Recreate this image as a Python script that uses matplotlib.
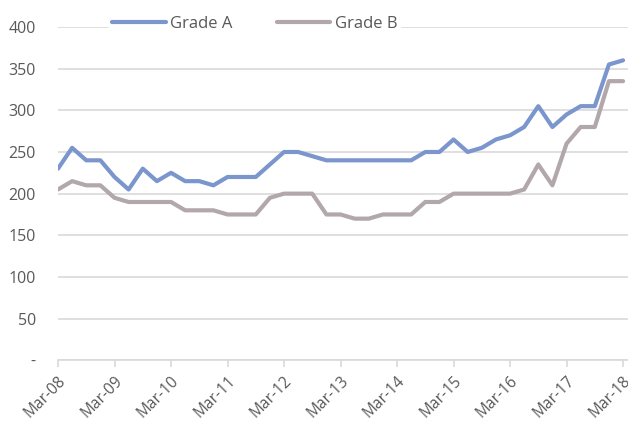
import matplotlib
matplotlib.use("Agg")
import matplotlib.pyplot as plt

# quarterly series, Mar-08 .. Mar-18
grade_a = [230, 255, 240, 240, 220, 205, 230, 215, 225, 215, 215, 210,
           220, 220, 220, 235, 250, 250, 245, 240, 240, 240, 240, 240,
           240, 240, 250, 250, 265, 250, 255, 265, 270, 280, 305, 280,
           295, 305, 305, 355, 360]
grade_b = [205, 215, 210, 210, 195, 190, 190, 190, 190, 180, 180, 180,
           175, 175, 175, 195, 200, 200, 200, 175, 175, 170, 170, 175,
           175, 175, 190, 190, 200, 200, 200, 200, 200, 205, 235, 210,
           260, 280, 280, 335, 335]
tick_labels = ["Mar-08", "Mar-09", "Mar-10", "Mar-11", "Mar-12", "Mar-13",
               "Mar-14", "Mar-15", "Mar-16", "Mar-17", "Mar-18"]
y_ticks = [0, 50, 100, 150, 200, 250, 300, 350, 400]
y_labels = ["-"] + [str(v) for v in y_ticks[1:]]

plt.rcParams['font.family'] = ['Open Sans', 'DejaVu Sans']
txt = "#595959"
grid = "#D9D9D9"

fig = plt.figure(figsize=(6.28, 4.26), dpi=100)
ax = fig.add_axes([58 / 628, 1 - 360.3 / 426, 570 / 628, (360.3 - 27) / 426])

x = list(range(len(grade_a)))
ax.plot(x, grade_a, color="#7B96CC", lw=3, label="Grade A", solid_capstyle="round", zorder=3)
ax.plot(x, grade_b, color="#B2A7AB", lw=3, label="Grade B", solid_capstyle="round", zorder=3)

ax.set_xlim(0, 40.35)
ax.set_ylim(0, 400)
ax.set_yticks(y_ticks)
ax.set_yticklabels(y_labels)
ax.set_xticks(range(0, 41, 4))
ax.set_xticklabels(tick_labels, rotation=45, ha="right", va="top", rotation_mode="anchor")

ax.grid(axis="y", color=grid, lw=1.2, zorder=0)
for s in ("top", "right", "left"):
    ax.spines[s].set_visible(False)
ax.spines["bottom"].set_color(grid)
ax.spines["bottom"].set_linewidth(1.2)
ax.tick_params(axis="y", length=0, pad=16, labelcolor=txt, labelsize=11.5)
ax.tick_params(axis="x", length=5, width=1.2, color=grid, labelcolor=txt, labelsize=11.2, pad=4)
for lab in ax.get_yticklabels():
    lab.set_horizontalalignment("right")

leg = ax.legend(loc="center", bbox_to_anchor=(0.345, 1.01), ncol=2, frameon=True,
                fontsize=12, handlelength=3.2, columnspacing=2.7, handletextpad=0.25,
                borderpad=0.2, labelcolor=txt)
leg.get_frame().set_edgecolor("white")
leg.get_frame().set_facecolor("white")
leg.get_frame().set_alpha(1)
leg.set_zorder(5)

fig.savefig("out.png", dpi=100)
